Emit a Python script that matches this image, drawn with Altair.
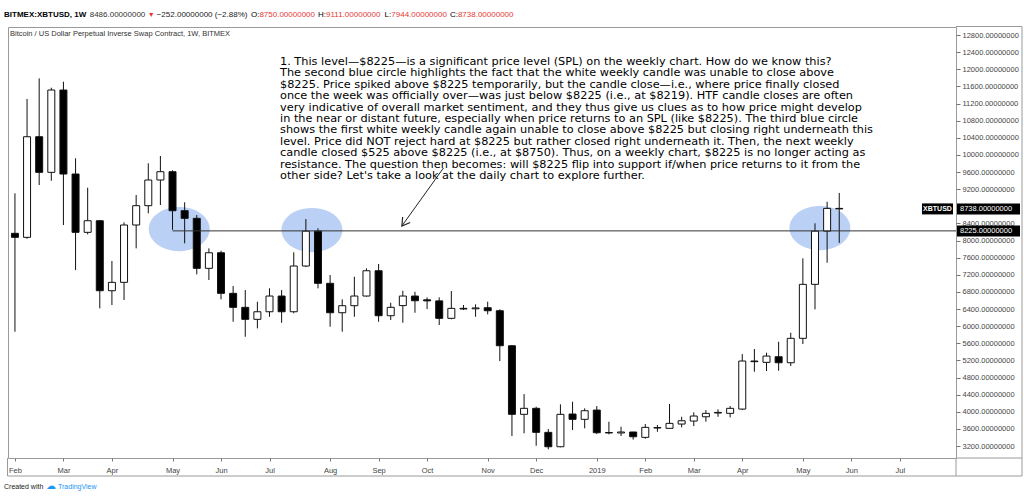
import json
import math
import altair as alt
import pandas as pd

# ---------------- data (weekly candles, week 0 = 5 Feb 2018) ----------------
opens = [8168, 8074, 10424, 9592, 11515, 9553, 8191, 8462, 6827, 7023,
         8362, 8813, 9413, 9607, 8696, 8518, 7350, 7714, 6766, 6439,
         6159, 6336, 6703, 6336, 7404, 8219, 7000, 6313, 6477, 6703,
         7294, 6243, 6480, 6703, 6615, 6590, 6182, 6415, 6405, 6430,
         6360, 5542, 3940, 4080, 3519, 3183, 3947, 3823, 4040, 3515,
         3505, 3527, 3402, 3630, 3613, 3713, 3783, 3883, 3970, 3963,
         4063, 5185, 5154, 5285, 5145, 5715, 6976, 8219, 8750]
highs = [9102, 11305, 11788, 11569, 11709, 9920, 9233, 8480, 7521, 8425,
         9062, 9803, 9973, 9640, 8892, 8595, 7817, 7762, 6937, 6843,
         6570, 6883, 6843, 7724, 8502, 8284, 7194, 6626, 7154, 7350,
         7451, 6546, 6827, 6803, 6672, 6672, 6820, 6493, 6509, 6570,
         6392, 5560, 4414, 4117, 3596, 4173, 4234, 4080, 4133, 3767,
         3650, 3530, 3713, 3690, 4180, 3883, 3986, 4040, 4056, 4133,
         5348, 5465, 5379, 5636, 5846, 7584, 8401, 8906, 9111]
lows = [5869, 8040, 9296, 9396, 8362, 7310, 8144, 6415, 6493, 6610,
        7817, 8635, 8829, 8250, 7934, 7210, 7077, 6626, 6103, 5752,
        5948, 6219, 6079, 6300, 7380, 6883, 5986, 5869, 6219, 6690,
        6103, 6142, 6079, 6313, 6399, 6026, 6160, 6376, 6219, 6275,
        5185, 3433, 3496, 3206, 3122, 3170, 3573, 3613, 3479, 3472,
        3433, 3350, 3370, 3533, 3613, 3636, 3666, 3767, 3883, 3869,
        4040, 4935, 4951, 4958, 5068, 5582, 6392, 7481, 7944]
closes = [8074, 10424, 9592, 11515, 9553, 8191, 8462, 6827, 7023, 8362,
          8813, 9413, 9607, 8696, 8518, 7350, 7714, 6766, 6439, 6159,
          6336, 6703, 6336, 7404, 8219, 7000, 6313, 6477, 6703, 7294,
          6243, 6439, 6703, 6593, 6590, 6182, 6415, 6400, 6425, 6360,
          5542, 3940, 4080, 3519, 3183, 3940, 3823, 4024, 3510, 3505,
          3527, 3416, 3636, 3620, 3729, 3790, 3900, 3963, 3985, 4080,
          5185, 5170, 5301, 5145, 5715, 6976, 8219, 8750, 8738]
weeks = list(range(len(opens)))

tick_weeks = [0, 4, 8, 13, 17, 21, 26, 30, 34, 39, 43, 48, 52, 56, 60, 65, 69, 73]
tick_labels = ["Feb", "Mar", "Apr", "May", "Jun", "Jul", "Aug", "Sep", "Oct", "Nov",
               "Dec", "2019", "Feb", "Mar", "Apr", "May", "Jun", "Jul"]
price_ticks = list(range(3200, 12801, 400))

spl_level = 8225
spl_start_week = 13
last_price = 8738

circle_weeks = [13.55, 24.5, 66.4]
circle_prices = [8268, 8245, 8292]

arrow_weeks = [35.35, 31.92]
arrow_prices = [9693, 8339]

note_lines = [
    "1. This level\u2014$8225\u2014is a significant price level (SPL) on the weekly chart. How do we know this?",
    "The second blue circle highlights the fact that the white weekly candle was unable to close above",
    "$8225. Price spiked above $8225 temporarily, but the candle close\u2014i.e., where price finally closed",
    "once the week was officially over\u2014was just below $8225 (i.e., at $8219). HTF candle closes are often",
    "very indicative of overall market sentiment, and they thus give us clues as to how price might develop",
    "in the near or distant future, especially when price returns to an SPL (like $8225). The third blue circle",
    "shows the first white weekly candle again unable to close above $8225 but closing right underneath this",
    "level. Price did NOT reject hard at $8225 but rather closed right underneath it. Then, the next weekly",
    "candle closed $525 above $8225 (i.e., at $8750). Thus, on a weekly chart, $8225 is no longer acting as",
    "resistance. The question then becomes: will $8225 flip into support if/when price returns to it from the",
    "other side? Let's take a look at the daily chart to explore further.",
]

# ---------------- layout ----------------
W, H = 948, 431
X_DOM = [-0.16, 77.22]
Y_DOM = [2920, 12987]
FONT = "Liberation Sans"

xs = alt.Scale(domain=X_DOM, nice=False, zero=False)
ys = alt.Scale(domain=Y_DOM, nice=False, zero=False)

label_expr = f"{json.dumps(tick_labels)}[indexof({json.dumps(tick_weeks)}, datum.value)]"
x_axis = alt.Axis(values=tick_weeks, labelExpr=label_expr, title=None, grid=False,
                  domain=False, tickSize=3, tickColor="#777", labelFont=FONT,
                  labelFontSize=7.5, labelColor="#444", labelPadding=5,
                  labelOverlap=False)
y_axis = alt.Axis(orient="right", values=price_ticks, format=".8f", title=None,
                  grid=False, domain=False, tickSize=4, tickColor="#777",
                  labelFont=FONT, labelFontSize=7.5, labelColor="#444",
                  labelPadding=2, labelOverlap=False)


def px_x(w):
    return (w - X_DOM[0]) / (X_DOM[1] - X_DOM[0]) * W


def px_y(p):
    return (Y_DOM[1] - p) / (Y_DOM[1] - Y_DOM[0]) * H


candles = pd.DataFrame({"week": weeks, "open": opens, "high": highs,
                        "low": lows, "close": closes})
one = pd.DataFrame({"a": [0]})

# ellipses behind the candles
pts = []
for k in range(40):
    t = 2 * math.pi * k / 40
    pts.append(f"{math.cos(t):.4f} {0.726 * math.sin(t):.4f}")
ellipse_path = "M " + " L ".join(pts) + " Z"
circles = pd.DataFrame({"w": circle_weeks, "p": circle_prices})
ellipses = alt.Chart(circles).mark_point(
    shape=ellipse_path, filled=True, size=61 * 61, fill="#bad0f5", opacity=1,
    strokeWidth=0
).encode(x=alt.X("w:Q", scale=xs, axis=x_axis), y=alt.Y("p:Q", scale=ys, axis=y_axis))

wicks = alt.Chart(candles).mark_rule(color="#111", strokeWidth=1).encode(
    x=alt.X("week:Q", scale=xs, axis=x_axis),
    y=alt.Y("low:Q", scale=ys, axis=y_axis),
    y2="high:Q",
)
bodies = alt.Chart(candles).mark_bar(size=7, stroke="#111", strokeWidth=1).encode(
    x=alt.X("week:Q", scale=xs, axis=x_axis),
    y=alt.Y("open:Q", scale=ys, axis=y_axis),
    y2="close:Q",
    fill=alt.condition("datum.close >= datum.open", alt.value("white"), alt.value("black")),
)

# SPL horizontal line
spl = pd.DataFrame({"w": [spl_start_week], "p": [spl_level]})
spl_line = alt.Chart(spl).mark_rule(color="#333", strokeWidth=1).encode(
    x=alt.X("w:Q", scale=xs, axis=x_axis), x2=alt.value(W),
    y=alt.Y("p:Q", scale=ys, axis=y_axis),
)

# arrow
arrow_df = pd.DataFrame({"w": arrow_weeks, "p": arrow_prices, "o": [0, 1]})
arrow_line = alt.Chart(arrow_df).mark_line(color="#222", strokeWidth=1).encode(
    x=alt.X("w:Q", scale=xs, axis=x_axis), y=alt.Y("p:Q", scale=ys, axis=y_axis),
    order="o:Q",
)
dx = px_x(arrow_weeks[1]) - px_x(arrow_weeks[0])
dy = px_y(arrow_prices[1]) - px_y(arrow_prices[0])
ang = math.degrees(math.atan2(dy, dx)) % 360
head_df = pd.DataFrame({"w": [arrow_weeks[1]], "p": [arrow_prices[1]]})
arrow_head = alt.Chart(head_df).mark_point(
    shape="M -1 -0.6 L 0 0 L -1 0.6", filled=False, stroke="#222", strokeWidth=1.2,
    size=240, angle=ang, opacity=1,
).encode(x=alt.X("w:Q", scale=xs, axis=x_axis), y=alt.Y("p:Q", scale=ys, axis=y_axis))

# price label boxes on the right axis
tags = pd.DataFrame({"p": [last_price, spl_level],
                     "t": [f"{last_price:.8f}", f"{spl_level:.8f}"]})
tag_box = alt.Chart(tags).mark_rect(color="black", yOffset=-5.5, y2Offset=5.5).encode(
    x=alt.value(949), x2=alt.value(1012),
    y=alt.Y("p:Q", scale=ys, axis=y_axis), y2="p:Q",
)
tag_text = alt.Chart(tags).mark_text(align="left", baseline="middle", color="white",
                                     font=FONT, fontSize=7.5).encode(
    x=alt.value(952), y=alt.Y("p:Q", scale=ys, axis=y_axis), text="t:N")
sym = pd.DataFrame({"p": [last_price], "t": ["XBTUSD"]})
sym_box = alt.Chart(sym).mark_rect(color="black", yOffset=-5.5, y2Offset=5.5).encode(
    x=alt.value(914), x2=alt.value(945),
    y=alt.Y("p:Q", scale=ys, axis=y_axis), y2="p:Q",
)
sym_text = alt.Chart(sym).mark_text(align="center", baseline="middle", color="white",
                                    font=FONT, fontSize=7, fontWeight="bold").encode(
    x=alt.value(929.5), y=alt.Y("p:Q", scale=ys, axis=y_axis), text="t:N")

# frame segments around the axes (pixel space)
frame = pd.DataFrame({
    "x1": [W, 1014, -0.5, -0.5, W, W],
    "x2": [1014, 1014, 1014, -0.5, 1014, W],
    "y1": [-0.5, -0.5, 449, H, H, H],
    "y2": [-0.5, 449, 449, 449, H, 449],
})
frame_lines = alt.Chart(frame).mark_rule(color="#9a9a9a", strokeWidth=1).encode(
    x=alt.X("x1:Q", scale=None), x2="x2:Q",
    y=alt.Y("y1:Q", scale=None), y2="y2:Q",
)

# note paragraph
note = alt.Chart(one).mark_text(
    text="\n".join(note_lines), lineBreak="\n", align="left", baseline="top",
    font="DejaVu Sans", fontSize=11.3, lineHeight=11.4, color="black",
).encode(x=alt.value(272), y=alt.value(29))

legend = alt.Chart(one).mark_text(
    text="Bitcoin / US Dollar Perpetual Inverse Swap Contract, 1W, BITMEX",
    align="left", baseline="middle", font=FONT, fontSize=7.5, color="#333",
).encode(x=alt.value(2), y=alt.value(7))

# header line: pieces laid out one after another with Arial-like advance widths
RED = "#e53935"
HDR_SIZE = 8
REG = {".": .278, " ": .278, ":": .278, "O": .778, "H": .722, "L": .556, "C": .722,
       "(": .333, ")": .333, "%": .889, "\u2212": .584, "\u25BC": .8}
BOLD = {"B": .722, "I": .278, "T": .611, "M": .833, "E": .667, "X": .667, ":": .333,
        "U": .722, "S": .667, "D": .722, ",": .278, " ": .278, "1": .556, "W": .944}


def text_w(s, bold=False):
    tbl = BOLD if bold else REG
    return sum(tbl.get(c, .556) for c in s) * HDR_SIZE


hdr_parts = [
    ("BITMEX:XBTUSD, 1W", "black", True, 3.5),
    ("8486.00000000", "#333", False, 2.5),
    ("\u25BC", RED, False, 2.5),
    ("\u2212252.00000000 (\u22122.88%)", "#222", False, 3.5),
    ("O:", "black", False, 0), ("8750.00000000", RED, False, 3),
    ("H:", "black", False, 0), ("9111.00000000", RED, False, 3),
    ("L:", "black", False, 0), ("7944.00000000", RED, False, 3),
    ("C:", "black", False, 0), ("8738.00000000", RED, False, 0),
]
header_layers = []
cur = -4.0
for txt, col, bold, gap in hdr_parts:
    header_layers.append(
        alt.Chart(one).mark_text(text=txt, align="left", baseline="middle", font=FONT,
                                 fontSize=HDR_SIZE if txt != "\u25BC" else 7, color=col,
                                 fontWeight="bold" if bold else "normal")
        .encode(x=alt.value(round(cur, 1)), y=alt.value(-12))
    )
    cur += text_w(txt, bold) + gap

credit = [
    alt.Chart(one).mark_text(text="Created with", align="left", baseline="middle",
                             font=FONT, fontSize=7, color="#222")
    .encode(x=alt.value(-4), y=alt.value(460)),
    alt.Chart(one).mark_text(text="\u2601", align="left", baseline="middle",
                             font="DejaVu Sans", fontSize=10, color="#2196f3")
    .encode(x=alt.value(38), y=alt.value(459)),
    alt.Chart(one).mark_text(text="TradingView", align="left", baseline="middle",
                             font=FONT, fontSize=7, color="#2196f3")
    .encode(x=alt.value(50), y=alt.value(460)),
]

chart = alt.layer(
    ellipses, wicks, bodies, spl_line, arrow_line, arrow_head,
    tag_box, tag_text, sym_box, sym_text, frame_lines, note, legend,
    *header_layers, *credit,
).properties(
    width=W, height=H,
    autosize=alt.AutoSizeParams(type="none"),
    padding={"left": 8, "top": 27, "right": 68, "bottom": 38},
    background="white",
).configure_view(stroke="#9a9a9a", strokeWidth=1)

chart.save("out.html", embed_options={"renderer": "svg", "actions": False})
